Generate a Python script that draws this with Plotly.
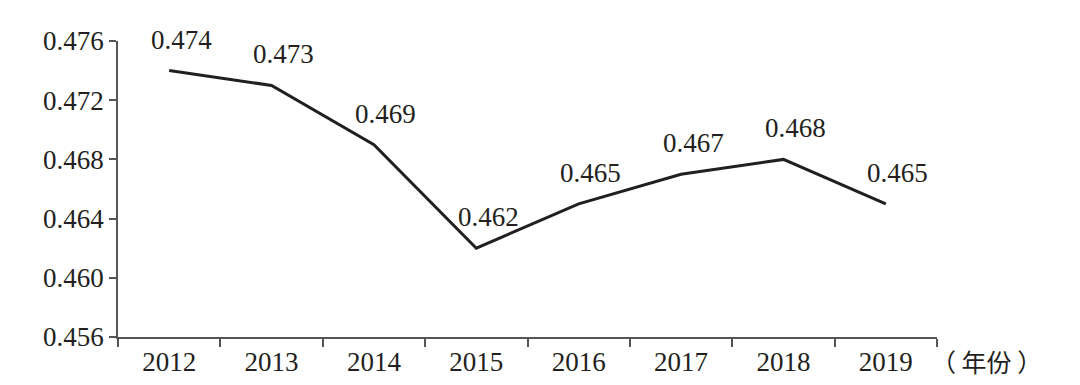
import plotly.graph_objects as go

years = ["2012", "2013", "2014", "2015", "2016", "2017", "2018", "2019"]
values = [0.474, 0.473, 0.469, 0.462, 0.465, 0.467, 0.468, 0.465]
y_ticks = [0.456, 0.460, 0.464, 0.468, 0.472, 0.476]
y_tick_text = ["0.456", "0.460", "0.464", "0.468", "0.472", "0.476"]

serif = "Liberation Serif, Times New Roman, serif"
axis_color = "#555555"
line_color = "#231f20"
fsize = 27

fig = go.Figure()
fig.add_trace(go.Scatter(
    x=years, y=values, mode="lines",
    line=dict(color=line_color, width=3),
    hoverinfo="skip", showlegend=False,
))

for i, v in enumerate(values):
    fig.add_annotation(
        x=i, y=v, text=f"{v:.3f}", showarrow=False,
        xshift=12, yshift=31,
        font=dict(family=serif, size=fsize, color=line_color),
    )

fig.add_annotation(
    xref="paper", yref="paper", x=1, y=0, xanchor="left", yanchor="top",
    xshift=-8, yshift=-4, text="（ 年份 ）", showarrow=False,
    font=dict(family="Noto Sans CJK SC", size=25, color=line_color),
)

fig.update_layout(
    width=1072, height=377,
    margin=dict(l=110, r=143, t=33, b=48),
    paper_bgcolor="white", plot_bgcolor="white",
    font=dict(family=serif, size=fsize, color=line_color),
    xaxis=dict(
        type="category", tickson="boundaries", ticks="outside", ticklen=8,
        tickwidth=1.5, tickcolor=axis_color, showline=True, linecolor=axis_color,
        linewidth=1.5, showgrid=False, zeroline=False, automargin=False,
        range=[-0.5, 7.5], tickfont=dict(family=serif, size=fsize, color=line_color),
    ),
    yaxis=dict(
        range=[0.456, 0.476], tickvals=y_ticks, ticktext=y_tick_text,
        ticks="outside", ticklen=7, tickwidth=1.5, tickcolor=axis_color,
        showline=True, linecolor=axis_color, linewidth=1.5, showgrid=False,
        zeroline=False, automargin=False,
        tickfont=dict(family=serif, size=fsize, color=line_color),
    ),
)

fig.write_html("out.html")
